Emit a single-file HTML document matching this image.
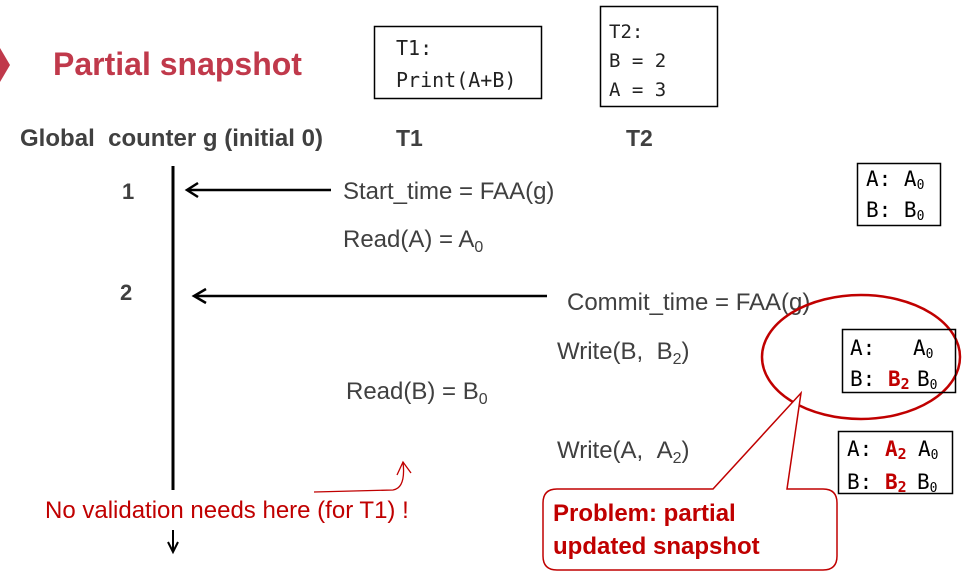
<!DOCTYPE html>
<html>
<head>
<meta charset="utf-8">
<style>
  html,body{margin:0;padding:0;background:#fff;}
  svg{display:block;}
  .sans{font-family:"Liberation Sans",Arial,sans-serif;}
  .mono{font-family:"DejaVu Sans Mono","Liberation Mono",monospace;}
</style>
</head>
<body>
<svg width="962" height="575" viewBox="0 0 962 575" xmlns="http://www.w3.org/2000/svg">
  <rect x="0" y="0" width="962" height="575" fill="#fff"/>

  <!-- Title -->
  <polygon points="0,48 10,65 0,82" fill="#c0394b"/>
  <text x="53" y="75" class="sans" font-size="32" font-weight="bold" fill="#c0394b">Partial snapshot</text>

  <!-- T1 code box -->
  <rect x="374.5" y="26.5" width="167" height="72" fill="none" stroke="#000" stroke-width="1.5"/>
  <text x="396" y="55" class="mono" font-size="20" fill="#222">T1:</text>
  <text x="396" y="87" class="mono" font-size="20" fill="#222">Print(A+B)</text>

  <!-- T2 code box -->
  <rect x="600.5" y="6.5" width="117" height="100" fill="none" stroke="#000" stroke-width="1.5"/>
  <text x="609" y="38" class="mono" font-size="19" fill="#222">T2:</text>
  <text x="609" y="67" class="mono" font-size="19" fill="#222">B = 2</text>
  <text x="609" y="96" class="mono" font-size="19" fill="#222">A = 3</text>

  <!-- Headers -->
  <text x="20" y="146" class="sans" font-size="24" font-weight="bold" fill="#404040" textLength="303" lengthAdjust="spacing">Global &#160;counter g (initial 0)</text>
  <text x="396" y="146" class="sans" font-size="23" font-weight="bold" fill="#404040">T1</text>
  <text x="626" y="146" class="sans" font-size="23" font-weight="bold" fill="#404040">T2</text>

  <!-- numbers -->
  <text x="122" y="199" class="sans" font-size="22" font-weight="bold" fill="#404040">1</text>
  <text x="120" y="300" class="sans" font-size="22" font-weight="bold" fill="#404040">2</text>

  <!-- timeline -->
  <line x1="173" y1="166" x2="173" y2="490" stroke="#000" stroke-width="3"/>
  <line x1="173" y1="530" x2="173" y2="552" stroke="#000" stroke-width="2"/>
  <polyline points="168,542 173,552 178,542" fill="none" stroke="#000" stroke-width="2"/>

  <!-- arrow 1 -->
  <line x1="187" y1="190" x2="331" y2="190" stroke="#000" stroke-width="2.5"/>
  <polyline points="198,183 187,190 198,197" fill="none" stroke="#000" stroke-width="2.5"/>
  <!-- arrow 2 -->
  <line x1="194" y1="296" x2="547" y2="296" stroke="#000" stroke-width="2.5"/>
  <polyline points="206,289 194,296 206,303" fill="none" stroke="#000" stroke-width="2.5"/>

  <!-- T1 / T2 operations -->
  <text x="343" y="199" class="sans" font-size="24" fill="#404040">Start_time = FAA(g)</text>
  <text x="343" y="247" class="sans" font-size="24" fill="#404040">Read(A) = A<tspan font-size="16" dy="5">0</tspan></text>
  <text x="346" y="399" class="sans" font-size="24" fill="#404040">Read(B) = B<tspan font-size="16" dy="5">0</tspan></text>
  <text x="567" y="310" class="sans" font-size="24" fill="#404040">Commit_time = FAA(g)</text>
  <text x="557" y="359" class="sans" font-size="24" fill="#404040">Write(B, &#160;B<tspan font-size="16" dy="5">2</tspan><tspan dy="-5">)</tspan></text>
  <text x="557" y="458" class="sans" font-size="24" fill="#404040">Write(A, &#160;A<tspan font-size="16" dy="5">2</tspan><tspan dy="-5">)</tspan></text>

  <!-- red note -->
  <text x="45" y="518" class="sans" font-size="24" fill="#c00000">No validation needs here (for T1) !</text>
  <path d="M314,492 L393,490 Q406,488 403,462" fill="none" stroke="#c00000" stroke-width="1.3"/>
  <polyline points="397,475 403,462 411,473" fill="none" stroke="#c00000" stroke-width="1.3"/>

  <!-- memory box 1 -->
  <rect x="857.5" y="163.5" width="83" height="62" fill="none" stroke="#000" stroke-width="1.5"/>
  <text x="866" y="186" class="mono" font-size="21" fill="#000">A: A<tspan font-size="13" dy="3">0</tspan></text>
  <text x="866" y="217" class="mono" font-size="21" fill="#000">B: B<tspan font-size="13" dy="3">0</tspan></text>

  <!-- ellipse -->
  <ellipse cx="861" cy="357" rx="99" ry="62" fill="none" stroke="#c00000" stroke-width="2.5"/>

  <!-- memory box 2 -->
  <rect x="842.5" y="329.5" width="113" height="63" fill="none" stroke="#000" stroke-width="1.5"/>
  <text x="850" y="355" class="mono" font-size="21" fill="#000">A:</text>
  <text x="913" y="355" class="mono" font-size="21" fill="#000">A<tspan font-size="13" dy="3">0</tspan></text>
  <text x="850" y="386" class="mono" font-size="21" fill="#000">B:</text>
  <text x="888" y="386" class="mono" font-size="21" font-weight="bold" fill="#c00000">B<tspan font-size="15" dy="3">2</tspan></text>
  <text x="917" y="386" class="mono" font-size="21" fill="#000">B<tspan font-size="13" dy="3">0</tspan></text>

  <!-- memory box 3 -->
  <rect x="838.5" y="431.5" width="114" height="62" fill="none" stroke="#000" stroke-width="1.5"/>
  <text x="847" y="456" class="mono" font-size="21" fill="#000">A:</text>
  <text x="885" y="456" class="mono" font-size="21" font-weight="bold" fill="#c00000">A<tspan font-size="15" dy="3">2</tspan></text>
  <text x="918" y="456" class="mono" font-size="21" fill="#000">A<tspan font-size="13" dy="3">0</tspan></text>
  <text x="847" y="489" class="mono" font-size="21" fill="#000">B:</text>
  <text x="885" y="489" class="mono" font-size="21" font-weight="bold" fill="#c00000">B<tspan font-size="15" dy="3">2</tspan></text>
  <text x="917" y="489" class="mono" font-size="21" fill="#000">B<tspan font-size="13" dy="3">0</tspan></text>

  <!-- callout -->
  <path d="M557,489 L713,489 L801,393 L787,489 L823,489 Q837,489 837,503 L837,556 Q837,570 823,570 L557,570 Q543,570 543,556 L543,503 Q543,489 557,489 Z" fill="#fff" stroke="#c00000" stroke-width="1.5"/>
  <text x="553" y="521" class="sans" font-size="24" font-weight="bold" fill="#c00000">Problem: partial</text>
  <text x="553" y="554" class="sans" font-size="24" font-weight="bold" fill="#c00000">updated snapshot</text>
</svg>
</body>
</html>
